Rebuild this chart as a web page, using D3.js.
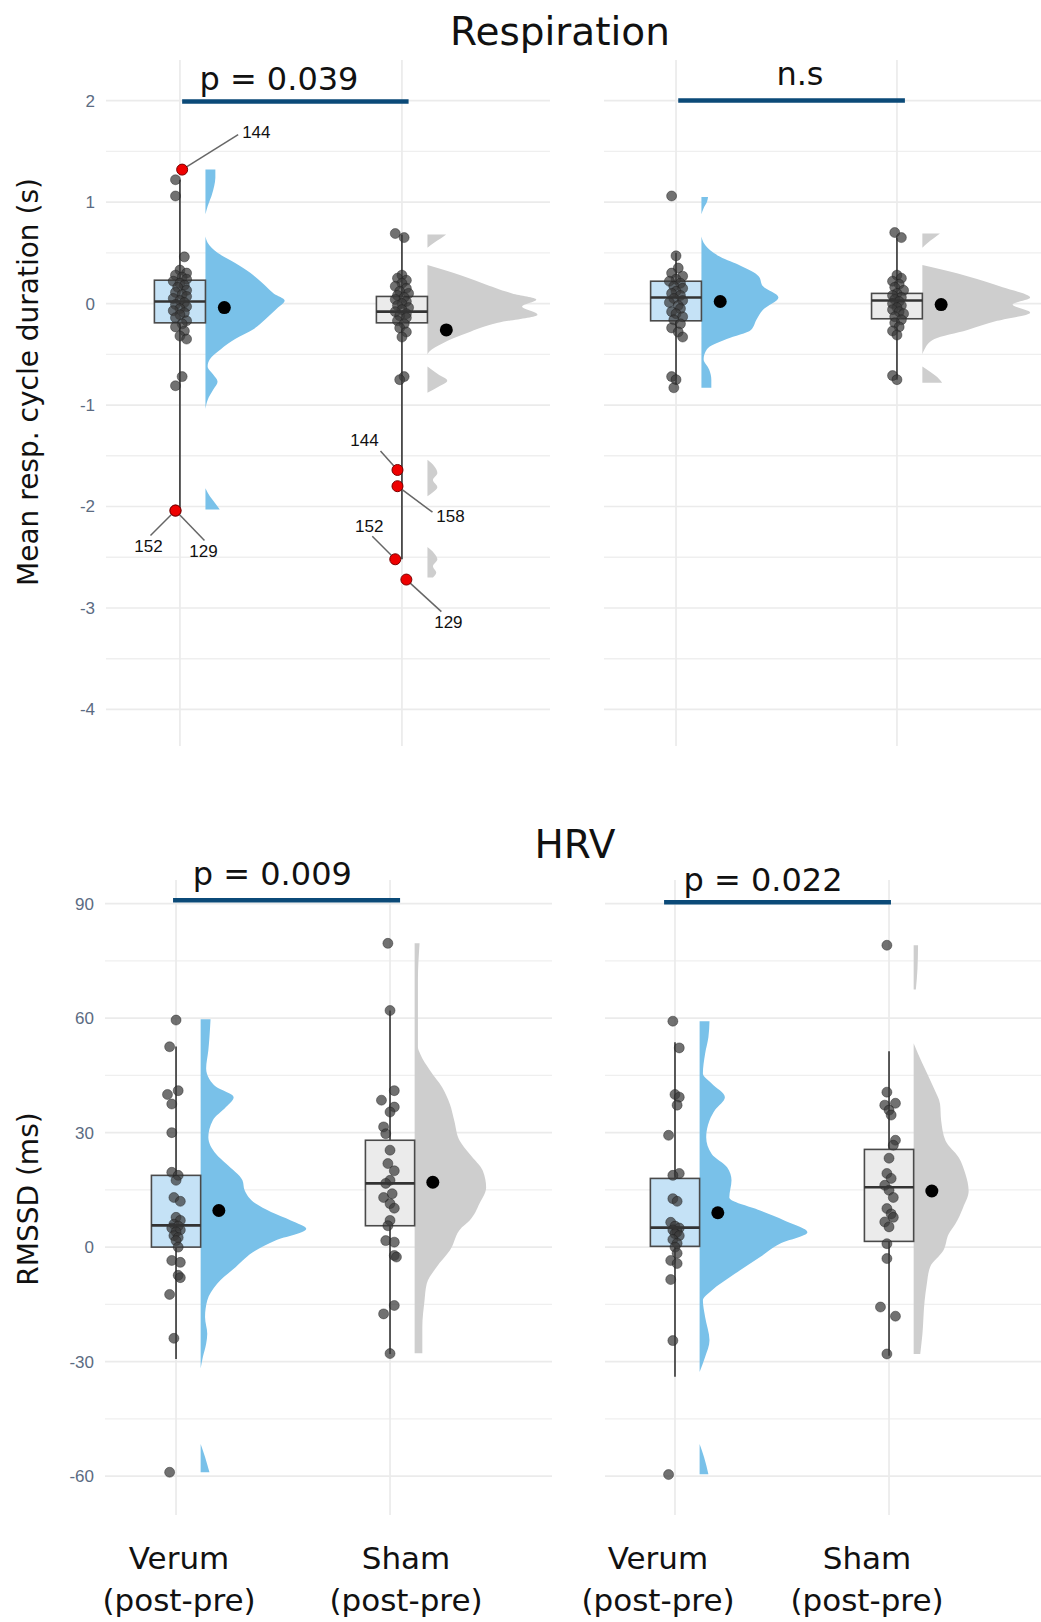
<!DOCTYPE html>
<html>
<head>
<meta charset="utf-8">
<script src="https://cdn.jsdelivr.net/npm/d3@7"></script>
<style>
  body { margin: 0; background: #fff; }
  svg { display: block; }
</style>
</head>
<body>
<script>
// ---- data ----
const categories = ["Verum", "Sham"];
const respTicks = [-4, -3, -2, -1, 0, 1, 2];
const respMinor = [-3.5, -2.5, -1.5, -0.5, 0.5, 1.5];
const hrvTicks = [-60, -30, 0, 30, 60, 90];
const hrvMinor = [-45, -15, 15, 45, 75];

// points: [value, horizontal jitter in category units]
const respLeftVerumPts = [[1.22,-0.02],[1.06,-0.02],[0.46,0.02],[0.33,0.0],[0.3,0.03],[0.28,-0.02],[0.26,0.01],[0.24,0.03],[0.22,-0.03],[0.2,0.0],[0.18,0.02],[0.16,-0.01],[0.13,0.03],[0.11,-0.02],[0.09,0.01],[0.07,0.03],[0.05,-0.03],[0.03,0.0],[0.01,0.02],[-0.01,-0.02],[-0.03,0.03],[-0.05,0.0],[-0.07,-0.03],[-0.09,0.02],[-0.11,0.0],[-0.14,-0.02],[-0.17,0.03],[-0.2,0.01],[-0.23,-0.02],[-0.27,0.02],[-0.32,0.0],[-0.35,0.03],[-0.72,0.01],[-0.81,-0.02]];
const respLeftShamPts = [[0.69,-0.03],[0.65,0.01],[0.28,0.0],[0.25,-0.02],[0.23,0.02],[0.2,0.0],[0.17,-0.03],[0.15,0.02],[0.12,-0.01],[0.1,0.03],[0.08,-0.02],[0.06,0.01],[0.04,-0.03],[0.02,0.02],[0.0,0.0],[-0.02,-0.02],[-0.04,0.03],[-0.06,0.0],[-0.08,-0.03],[-0.1,0.02],[-0.12,-0.01],[-0.14,0.02],[-0.17,-0.02],[-0.2,0.01],[-0.24,-0.01],[-0.28,0.02],[-0.33,0.0],[-0.72,0.01],[-0.75,-0.01]];
const respRightVerumPts = [[1.06,-0.02],[0.47,0.0],[0.35,0.01],[0.3,-0.02],[0.27,0.03],[0.24,0.0],[0.22,-0.03],[0.2,0.02],[0.17,-0.01],[0.15,0.03],[0.12,0.0],[0.1,-0.02],[0.08,0.02],[0.05,-0.01],[0.03,0.03],[0.01,-0.03],[-0.02,0.01],[-0.05,0.02],[-0.08,-0.02],[-0.1,0.0],[-0.13,0.03],[-0.16,-0.01],[-0.2,0.02],[-0.24,-0.02],[-0.28,0.01],[-0.33,0.03],[-0.72,-0.02],[-0.75,0.0],[-0.83,-0.01]];
const respRightShamPts = [[0.7,-0.01],[0.65,0.02],[0.28,0.0],[0.25,0.02],[0.22,-0.02],[0.19,0.01],[0.16,-0.01],[0.13,0.03],[0.1,0.0],[0.08,-0.02],[0.06,0.02],[0.04,-0.01],[0.02,0.01],[0.0,-0.02],[-0.02,0.02],[-0.04,0.0],[-0.06,-0.02],[-0.08,0.01],[-0.1,0.03],[-0.13,-0.01],[-0.16,0.02],[-0.19,-0.01],[-0.23,0.01],[-0.27,-0.02],[-0.31,0.0],[-0.71,-0.02],[-0.75,0.0]];
const hrvLeftVerumPts = [[59.5,0.0],[52.5,-0.03],[41,0.01],[40,-0.04],[37.5,-0.02],[30,-0.02],[19.6,-0.02],[18.8,0.01],[17.5,0.0],[13,-0.01],[12,0.02],[7.8,0.0],[7,0.02],[6,-0.01],[5.5,0.01],[5,-0.02],[4.5,0.02],[4,0.0],[3,-0.01],[2.5,0.01],[1.7,0.0],[0,0.01],[-3.5,-0.02],[-4,0.02],[-7.4,0.01],[-8,0.02],[-12.4,-0.03],[-23.9,-0.01],[-59,-0.03]];
const hrvLeftShamPts = [[79.6,-0.01],[62,0.0],[41,0.02],[38.5,-0.04],[36.7,0.02],[35.4,0.0],[31.5,-0.03],[29.7,-0.02],[25.4,0.0],[21.9,-0.01],[20,0.02],[17.5,0.0],[16.7,-0.02],[14,0.01],[13,-0.03],[11.4,0.0],[10.2,0.02],[7,0.0],[5.6,-0.01],[1.7,-0.02],[1.3,0.02],[-2.2,0.02],[-2.6,0.03],[-15.3,0.02],[-17.5,-0.03],[-27.9,0.0]];
const hrvRightVerumPts = [[59.2,-0.01],[52.2,0.02],[40,0.0],[39.3,0.02],[37.2,0.01],[29.3,-0.03],[19.3,0.02],[18.8,-0.01],[12.7,-0.01],[12,0.01],[6.5,-0.02],[5.5,0.0],[5,0.02],[4.5,-0.01],[4,0.01],[3.5,0.0],[3,0.02],[2,-0.01],[1,0.01],[0,0.0],[-1.6,0.01],[-3.5,-0.02],[-4.3,0.01],[-8.5,-0.02],[-24.5,-0.01],[-59.6,-0.03]];
const hrvRightShamPts = [[79.1,-0.01],[40.6,-0.01],[37.7,0.03],[37.2,-0.02],[35.9,0.0],[34.6,0.01],[28,0.03],[26.7,0.02],[23.3,0.0],[19.3,-0.01],[18,0.01],[16.2,-0.02],[14.9,0.0],[13,0.02],[10.1,-0.01],[8.7,0.01],[7.8,0.02],[6.6,-0.02],[5.3,0.0],[0.9,-0.01],[-3,-0.01],[-15.7,-0.04],[-18.1,0.03],[-28,-0.01]];

// labelled outliers: [value, jitter, id]
const respLeftVerumOut = [[1.32,0.01,"144"],[-2.04,-0.02,"152"],[-2.04,-0.02,"129"]];
const respLeftShamOut = [[-1.64,-0.02,"144"],[-1.8,-0.02,"158"],[-2.52,-0.03,"152"],[-2.72,0.02,"129"]];

// boxplot stats: [lower whisker, q1, median, q3, upper whisker]
const respLeftBox = [[-2.04,-0.19,0.02,0.23,1.22],[-2.52,-0.19,-0.08,0.07,0.68]];
const respRightBox = [[-0.8,-0.17,0.06,0.22,0.5],[-0.75,-0.15,0.03,0.1,0.65]];
const hrvLeftBox = [[-29.3,0,5.7,18.8,52.6],[-28,5.6,16.7,28,62]];
const hrvRightBox = [[-34,0.2,5.1,18,53.7],[-28.5,1.5,15.7,25.6,51.3]];

// group means
const respLeftMeans = [-0.04, -0.26];
const respRightMeans = [0.02, -0.01];
const hrvLeftMeans = [9.6, 17];
const hrvRightMeans = [9, 14.7];

// half-violin density profiles: segments of [value, scaled density]
const respLeftVerumDens = [
  [[1.32,0.09],[1.24,0.09],[1.16,0.08],[1.06,0.055],[0.96,0.02],[0.88,0.0]],
  [[0.66,0.0],[0.6,0.02],[0.5,0.11],[0.4,0.27],[0.3,0.41],[0.2,0.52],[0.1,0.62],[0.03,0.72],[-0.05,0.65],[-0.15,0.55],[-0.25,0.44],[-0.35,0.27],[-0.45,0.14],[-0.55,0.04],[-0.62,0.02],[-0.7,0.07],[-0.77,0.11],[-0.85,0.07],[-0.95,0.02],[-1.04,0.0]],
  [[-1.82,0.0],[-1.9,0.04],[-1.97,0.09],[-2.03,0.13]]
];
const respLeftShamDens = [
  [[0.68,0.17],[0.64,0.12],[0.6,0.06],[0.55,0.0]],
  [[0.38,0.0],[0.3,0.24],[0.2,0.5],[0.1,0.77],[0.04,0.99],[-0.03,0.86],[-0.11,1.0],[-0.19,0.64],[-0.29,0.36],[-0.39,0.14],[-0.47,0.02],[-0.5,0.0]],
  [[-0.62,0.0],[-0.7,0.1],[-0.76,0.18],[-0.82,0.1],[-0.88,0.0]],
  [[-1.54,0.0],[-1.6,0.06],[-1.67,0.09],[-1.74,0.05],[-1.81,0.09],[-1.86,0.05],[-1.9,0.0]],
  [[-2.4,0.0],[-2.46,0.06],[-2.52,0.09],[-2.59,0.05],[-2.65,0.08],[-2.7,0.05]]
];
const respRightVerumDens = [
  [[1.05,0.06],[1.0,0.05],[0.94,0.02],[0.88,0.0]],
  [[0.66,0.0],[0.6,0.02],[0.5,0.11],[0.46,0.17],[0.37,0.36],[0.27,0.52],[0.17,0.56],[0.06,0.7],[-0.06,0.56],[-0.16,0.5],[-0.26,0.45],[-0.35,0.23],[-0.45,0.05],[-0.55,0.02],[-0.65,0.07],[-0.75,0.09],[-0.83,0.09]]
];
const respRightShamDens = [
  [[0.69,0.16],[0.64,0.1],[0.6,0.05],[0.55,0.0]],
  [[0.38,0.0],[0.27,0.41],[0.16,0.73],[0.06,0.98],[-0.01,0.82],[-0.09,0.98],[-0.17,0.68],[-0.26,0.41],[-0.35,0.11],[-0.45,0.02],[-0.5,0.0]],
  [[-0.62,0.0],[-0.68,0.08],[-0.74,0.15],[-0.78,0.18]]
];
const hrvLeftVerumDens = [
  [[59.7,0.09],[55,0.08],[51.6,0.07],[46.8,0.05],[44,0.08],[42,0.14],[39.3,0.3],[36.7,0.23],[33.2,0.11],[28.8,0.07],[24.4,0.14],[21.9,0.23],[17.5,0.38],[14.9,0.4],[11.4,0.5],[9.2,0.64],[7,0.82],[4.8,0.96],[1.7,0.68],[-0.9,0.5],[-5.2,0.32],[-9.6,0.15],[-14,0.06],[-18.3,0.04],[-22.7,0.06],[-25.3,0.05],[-28.8,0.02],[-31.8,0.0]],
  [[-51.6,0.0],[-55,0.04],[-59,0.08]]
];
const hrvLeftShamDens = [
  [[79.6,0.045],[70,0.03],[60,0.03],[52.4,0.03],[50.7,0.05],[46.3,0.14],[41.9,0.25],[37.5,0.32],[33.2,0.36],[27.9,0.41],[24.4,0.5],[20,0.62],[15.6,0.65],[11.4,0.59],[7,0.5],[5.2,0.43],[-0.9,0.32],[-5.2,0.2],[-9.6,0.11],[-14,0.09],[-21,0.07],[-27.8,0.07]]
];
const hrvRightVerumDens = [
  [[59.2,0.09],[55,0.08],[50.7,0.05],[45.5,0.03],[42.9,0.11],[39.3,0.23],[35.9,0.14],[33.2,0.09],[28.8,0.06],[24.4,0.11],[20.9,0.25],[17.5,0.29],[13,0.27],[9.6,0.55],[7,0.77],[3.9,0.98],[0.9,0.73],[-2.6,0.55],[-7,0.32],[-11.4,0.11],[-14,0.03],[-18.3,0.05],[-24.4,0.09],[-28.8,0.05],[-32.7,0.0]],
  [[-51.6,0.0],[-55,0.04],[-59.5,0.08]]
];
const hrvRightShamDens = [
  [[79.1,0.04],[73,0.035],[67.5,0.02]],
  [[53.4,0.0],[50.7,0.04],[46.3,0.11],[41.9,0.18],[37.5,0.24],[33.2,0.25],[27.9,0.29],[23.5,0.41],[19.2,0.47],[14.7,0.5],[10.4,0.45],[6.1,0.38],[3.5,0.32],[-0.9,0.27],[-5.2,0.15],[-9.6,0.12],[-14,0.1],[-22.7,0.08],[-28,0.06]]
];

// significance brackets: label, from, to (category units), height (data units), label x
const respSig = [
  { label: "p = 0.039", x1: 1.01, x2: 2.03, y: 1.99, tx: 1.446 },
  { label: "n.s", x1: 1.01, x2: 2.036, y: 2.0, tx: 1.561 }
];
const hrvSig = [
  { label: "p = 0.009", x1: 0.986, x2: 2.047, y: 90.9, tx: 1.45 },
  { label: "p = 0.022", x1: 0.949, x2: 2.009, y: 90.4, tx: 1.411 }
];

// ---- layout / style ----
const W = 1041, H = 1622;
const verumBoxFill = "#c5e2f6", verumDensFill = "#79c1e9";
const shamBoxFill = "#ebebeb", shamDensFill = "#cecece";
const sigColor = "#0b4a78";
const boxHalf = 0.115, meanOffset = 0.2;
const densW = d3.scaleLinear().domain([0, 1]).range([0, 110]);

const yResp = d3.scaleLinear().domain([-4.36, 2.40]).range([746, 60]);
const yHrv = d3.scaleLinear().domain([-70.2, 96.2]).range([1515, 880]);

const panels = [
  { left: 106, right: 550, xDomain: [0.667, 2.667], y: yResp, ticks: respTicks, minor: respMinor, axis: true,
    pts: [respLeftVerumPts, respLeftShamPts], out: [respLeftVerumOut, respLeftShamOut],
    box: respLeftBox, means: respLeftMeans, dens: [respLeftVerumDens, respLeftShamDens], sig: respSig[0], sigDy: -12 },
  { left: 604, right: 1041, xDomain: [0.674, 2.652], y: yResp, ticks: respTicks, minor: respMinor, axis: false,
    pts: [respRightVerumPts, respRightShamPts], out: [[], []],
    box: respRightBox, means: respRightMeans, dens: [respRightVerumDens, respRightShamDens], sig: respSig[1], sigDy: -16 },
  { left: 105, right: 552, xDomain: [0.668, 2.757], y: yHrv, ticks: hrvTicks, minor: hrvMinor, axis: true,
    pts: [hrvLeftVerumPts, hrvLeftShamPts], out: [[], []],
    box: hrvLeftBox, means: hrvLeftMeans, dens: [hrvLeftVerumDens, hrvLeftShamDens], sig: hrvSig[0], sigDy: -15,
    catShift: [3, 16] },
  { left: 605, right: 1041, xDomain: [0.673, 2.710], y: yHrv, ticks: hrvTicks, minor: hrvMinor, axis: false,
    pts: [hrvRightVerumPts, hrvRightShamPts], out: [[], []],
    box: hrvRightBox, means: hrvRightMeans, dens: [hrvRightVerumDens, hrvRightShamDens], sig: hrvSig[1], sigDy: -11,
    catShift: [-17, -22] }
];

// repel-style label placement for the outlier ids (px offsets: line end, text centre)
const labelPos = {
  "0-144": { lx: 56, ly: -35, tx: 60, ty: -38, anchor: "start" },
  "0-152": { lx: -25, ly: 25, tx: -27, ty: 35, anchor: "middle" },
  "0-129": { lx: 29, ly: 30, tx: 28, ty: 40, anchor: "middle" },
  "1-144": { lx: -17, ly: -19, tx: -33, ty: -30, anchor: "middle" },
  "1-158": { lx: 35, ly: 26, tx: 53, ty: 30, anchor: "middle" },
  "1-152": { lx: -23, ly: -23, tx: -26, ty: -33, anchor: "middle" },
  "1-129": { lx: 35, ly: 32, tx: 42, ty: 42, anchor: "middle" }
};

const svg = d3.select("body").append("svg")
  .attr("width", W).attr("height", H)
  .style("background", "#fff");

panels.forEach(p => {
  const x = d3.scaleLinear().domain(p.xDomain).range([p.left, p.right]);
  const y = p.y;
  const [yBot, yTop] = y.range();
  const g = svg.append("g");

  // grid
  g.selectAll("line.minor").data(p.minor).join("line")
    .attr("x1", p.left).attr("x2", p.right)
    .attr("y1", d => y(d)).attr("y2", d => y(d))
    .attr("stroke", "#efefef").attr("stroke-width", 1.3);
  g.selectAll("line.major").data(p.ticks).join("line")
    .attr("x1", p.left).attr("x2", p.right)
    .attr("y1", d => y(d)).attr("y2", d => y(d))
    .attr("stroke", "#ebebeb").attr("stroke-width", 1.7);
  g.selectAll("line.vgrid").data([1, 2]).join("line")
    .attr("x1", d => x(d)).attr("x2", d => x(d))
    .attr("y1", yTop).attr("y2", yBot)
    .attr("stroke", "#ebebeb").attr("stroke-width", 1.7);

  if (p.axis) {
    g.selectAll("text.tick").data(p.ticks).join("text")
      .attr("x", p.left - 11).attr("y", d => y(d)).attr("dy", "0.35em")
      .attr("text-anchor", "end")
      .style("font-family", "Liberation Sans, Arial, sans-serif")
      .style("font-size", "17px").style("fill", "#5b6b82")
      .text(d => d);
  }

  categories.forEach((cat, gi) => {
    const c = gi + 1;
    const densFill = gi === 0 ? verumDensFill : shamDensFill;
    const boxFill = gi === 0 ? verumBoxFill : shamBoxFill;
    const base = x(c + boxHalf);

    // half violin
    const area = d3.area()
      .curve(d3.curveMonotoneY)
      .y(d => y(d[0]))
      .x0(base)
      .x1(d => base + densW(d[1]));
    g.selectAll(null).data(p.dens[gi]).join("path")
      .attr("d", area)
      .attr("fill", densFill);

    // whisker
    const b = p.box[gi];
    g.append("line")
      .attr("x1", x(c)).attr("x2", x(c))
      .attr("y1", y(b[0])).attr("y2", y(b[4]))
      .attr("stroke", "#333").attr("stroke-width", 1.6);

    // box
    g.append("rect")
      .attr("x", x(c - boxHalf)).attr("width", x(c + boxHalf) - x(c - boxHalf))
      .attr("y", y(b[3])).attr("height", y(b[1]) - y(b[3]))
      .attr("fill", boxFill).attr("stroke", "#4a4a4a").attr("stroke-width", 1.6);

    // jittered points
    g.selectAll(null).data(p.pts[gi]).join("circle")
      .attr("cx", d => x(c + d[1])).attr("cy", d => y(d[0]))
      .attr("r", 5)
      .attr("fill", "#3a3a3a").attr("fill-opacity", 0.72)
      .attr("stroke", "#1a1a1a").attr("stroke-opacity", 0.5).attr("stroke-width", 0.8);

    // median
    g.append("line")
      .attr("x1", x(c - boxHalf)).attr("x2", x(c + boxHalf))
      .attr("y1", y(b[2])).attr("y2", y(b[2]))
      .attr("stroke", "#333").attr("stroke-width", 2.6);

    // outliers with id labels
    p.out[gi].forEach(o => {
      const key = gi + "-" + o[2];
      const lp = labelPos[key];
      const px = x(c + o[1]), py = y(o[0]);
      g.append("line")
        .attr("x1", px).attr("y1", py)
        .attr("x2", px + lp.lx).attr("y2", py + lp.ly)
        .attr("stroke", "#666").attr("stroke-width", 1.5);
      g.append("text")
        .attr("x", px + lp.tx).attr("y", py + lp.ty).attr("dy", "0.35em")
        .attr("text-anchor", lp.anchor)
        .style("font-family", "Liberation Sans, Arial, sans-serif")
        .style("font-size", "17px").style("fill", "#111")
        .text(o[2]);
    });
    g.selectAll(null).data(p.out[gi]).join("circle")
      .attr("cx", d => x(c + d[1])).attr("cy", d => y(d[0]))
      .attr("r", 5.5)
      .attr("fill", "#ee0000").attr("stroke", "#7a0000").attr("stroke-width", 1);

    // mean
    g.append("circle")
      .attr("cx", x(c + meanOffset)).attr("cy", y(p.means[gi]))
      .attr("r", 6.5).attr("fill", "#000");

    // category labels under the bottom panels
    if (p.catShift) {
      const t = g.append("text")
        .attr("x", x(c) + p.catShift[gi])
        .attr("text-anchor", "middle")
        .style("font-family", "DejaVu Sans, sans-serif")
        .style("font-size", "31px").style("fill", "#111");
      t.append("tspan").attr("x", x(c) + p.catShift[gi]).attr("y", 1569).text(cat);
      t.append("tspan").attr("x", x(c) + p.catShift[gi]).attr("y", 1611).text("(post-pre)");
    }
  });

  // significance bar
  g.append("line")
    .attr("x1", x(p.sig.x1)).attr("x2", x(p.sig.x2))
    .attr("y1", y(p.sig.y)).attr("y2", y(p.sig.y))
    .attr("stroke", sigColor).attr("stroke-width", 4.5);
  g.append("text")
    .attr("x", x(p.sig.tx)).attr("y", y(p.sig.y) + p.sigDy)
    .attr("text-anchor", "middle")
    .style("font-family", "DejaVu Sans, sans-serif")
    .style("font-size", "32px").style("fill", "#111")
    .text(p.sig.label);
});

// titles
svg.append("text").attr("x", 560).attr("y", 45).attr("text-anchor", "middle")
  .style("font-family", "DejaVu Sans, sans-serif").style("font-size", "39px").style("fill", "#111")
  .text("Respiration");
svg.append("text").attr("x", 575).attr("y", 858).attr("text-anchor", "middle")
  .style("font-family", "DejaVu Sans, sans-serif").style("font-size", "39px").style("fill", "#111")
  .text("HRV");

// y axis titles
[["Mean resp. cycle duration (s)", 382], ["RMSSD (ms)", 1199]].forEach(([t, cy]) => {
  svg.append("text")
    .attr("transform", `translate(38,${cy}) rotate(-90)`)
    .attr("text-anchor", "middle")
    .style("font-family", "DejaVu Sans, sans-serif").style("font-size", "28px").style("fill", "#111")
    .text(t);
});
</script>
</body>
</html>
